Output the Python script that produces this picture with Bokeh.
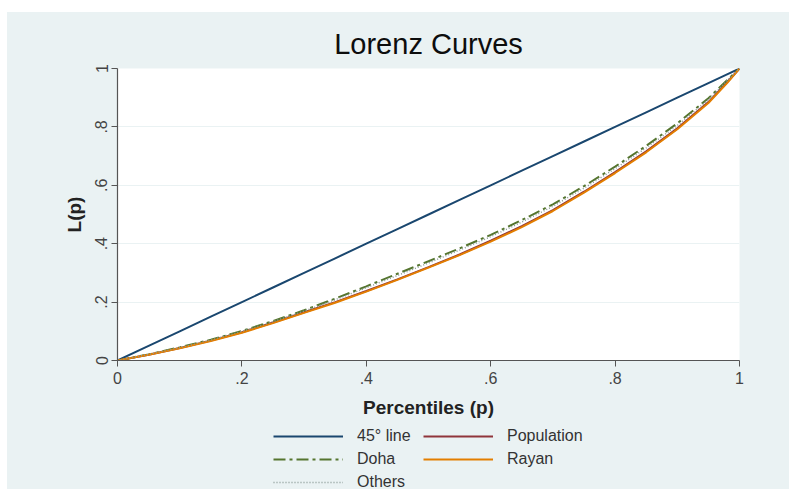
from bokeh.plotting import figure
from bokeh.models import (Range1d, FixedTicker, Legend, LegendItem, Spacer)
from bokeh.layouts import column, row
from bokeh.embed import file_html
from bokeh.resources import INLINE

# Cumulative population share (p) and cumulative income share L(p)
p = [0, .05, .10, .15, .20, .25, .30, .35, .40, .45, .50, .55, .60,
     .65, .70, .75, .80, .85, .90, .95, .98, 1.0]
equality = p
population = [0, .020, .043, .068, .097, .130, .165, .200, .238, .278, .320,
              .363, .410, .460, .515, .578, .645, .716, .795, .885, .953, 1.0]
doha = [0, .021, .045, .071, .101, .135, .172, .212, .254, .297, .340,
        .384, .430, .481, .535, .597, .664, .735, .812, .898, .960, 1.0]
rayan = [0, .020, .042, .067, .095, .128, .163, .198, .236, .276, .318,
         .361, .407, .457, .512, .575, .642, .713, .792, .882, .950, 1.0]
others = [0, .021, .044, .070, .100, .133, .169, .208, .249, .291, .334,
          .378, .424, .474, .528, .590, .657, .728, .805, .893, .958, 1.0]

ticks = [0, .2, .4, .6, .8, 1]
tick_labels = ["0", ".2", ".4", ".6", ".8", "1"]

series = [
    # label, values, color, width, dash
    ("45° line", equality, "#1a476f", 2, "solid"),
    ("Population", population, "#90353b", 2, "solid"),
    ("Doha", doha, "#55752f", 2, "12 4 3 4"),
    ("Rayan", rayan, "#e37e00", 2, "solid"),
    ("Others", others, "#8a9a96", 1.5, "1 2"),
]

BG = "#eaf2f3"
FONT = "Liberation Sans"

p_fig = figure(width=782, height=410, output_backend="svg", toolbar_location=None,
               x_range=Range1d(0, 1), y_range=Range1d(0, 1),
               min_border_left=110, min_border_right=50,
               min_border_top=56, min_border_bottom=62,
               title="Lorenz Curves")
p_fig.border_fill_color = BG
p_fig.background_fill_color = "white"
p_fig.outline_line_color = None

p_fig.title.align = "center"
p_fig.title.text_font = FONT
p_fig.title.text_font_size = "29px"
p_fig.title.text_font_style = "normal"
p_fig.title.text_color = "#0d0d0d"
p_fig.title.standoff = 17

for ax in (p_fig.xaxis, p_fig.yaxis):
    ax.ticker = FixedTicker(ticks=ticks)
    ax.major_label_overrides = {t: l for t, l in zip(ticks, tick_labels)}
    ax.minor_tick_line_color = None
    ax.major_tick_out = 6
    ax.major_tick_in = 0
    ax.axis_line_color = "#555555"
    ax.major_tick_line_color = "#555555"
    ax.axis_line_width = 1.2
    ax.major_label_text_font = FONT
    ax.major_label_text_font_size = "16px"
    ax.major_label_text_color = "#444444"
    ax.axis_label_text_font = FONT
    ax.axis_label_text_font_size = "19px"
    ax.axis_label_text_font_style = "bold"
    ax.axis_label_text_color = "#222222"

p_fig.xaxis.axis_label = "Percentiles (p)"
p_fig.yaxis.axis_label = "L(p)"
p_fig.yaxis.major_label_orientation = "vertical"
p_fig.xaxis.major_label_standoff = 5
p_fig.xaxis.axis_label_standoff = 10
p_fig.yaxis.major_label_standoff = 4
p_fig.yaxis.axis_label_standoff = 8

p_fig.xgrid.grid_line_color = None
p_fig.ygrid.ticker = FixedTicker(ticks=ticks)
p_fig.ygrid.grid_line_color = BG
p_fig.ygrid.grid_line_width = 1

for label, vals, color, width, dash in series:
    p_fig.line(p, vals, line_color=color, line_width=width, line_dash=dash)

# legend strip under the chart: two columns, filled row by row.
# Its key renderers carry the same series, but its ranges keep them out of view.
p_leg = figure(width=782, height=67, output_backend="svg", toolbar_location=None,
               x_range=Range1d(-3, -2), y_range=Range1d(-3, -2),
               min_border=0, x_axis_type=None, y_axis_type=None)
p_leg.border_fill_color = BG
p_leg.background_fill_color = BG
p_leg.outline_line_color = None
p_leg.grid.visible = False

keys = {}
for label, vals, color, width, dash in series:
    keys[label] = p_leg.line(p, vals, line_color=color, line_width=width,
                             line_dash=dash)

order = ["45° line", "Doha", "Others", "Population", "Rayan"]
legend = Legend(items=[LegendItem(label=k, renderers=[keys[k]]) for k in order],
                orientation="vertical", ncols=2, location=(156, -3))
legend.background_fill_alpha = 0
legend.border_line_color = None
legend.glyph_width = 70
legend.glyph_height = 20
legend.label_standoff = 14
legend.label_width = 63
legend.spacing = 3
legend.padding = 0
legend.margin = 0
legend.label_text_font = FONT
legend.label_text_font_size = "16px"
legend.label_text_color = "#333333"
p_leg.add_layout(legend, "center")

chart = column(p_fig, p_leg, spacing=0, styles={"background-color": BG})
page = column(Spacer(height=12), row(Spacer(width=7), chart), spacing=0)
open("out.html", "w").write(file_html(page, INLINE))
